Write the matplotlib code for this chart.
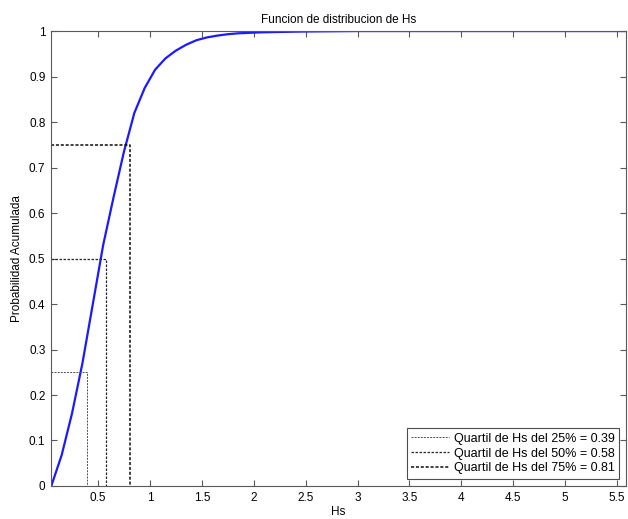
import numpy as np
import matplotlib.pyplot as plt
from matplotlib.ticker import FormatStrFormatter

plt.rcParams['font.family'] = ['Liberation Sans', 'DejaVu Sans']

# curva de distribucion acumulada de Hs
hs = [0.05, 0.15, 0.25, 0.35, 0.45, 0.55, 0.65, 0.75, 0.85, 0.95,
      1.05, 1.15, 1.25, 1.35, 1.45, 1.55, 1.65, 1.75, 1.85, 1.95,
      2.05, 2.25, 2.5, 2.75, 3.0, 3.5, 4.0, 4.5, 5.0, 5.6]
prob = [0.0, 0.068, 0.16, 0.27, 0.40, 0.53, 0.635, 0.735, 0.82, 0.875,
        0.915, 0.94, 0.957, 0.970, 0.980, 0.986, 0.990, 0.993, 0.995, 0.996,
        0.997, 0.998, 0.999, 0.9995, 1.0, 1.0, 1.0, 1.0, 1.0, 1.0]

niveles = [0.25, 0.50, 0.75]
cuartiles = [0.39, 0.58, 0.81]
etiquetas = ['25%', '50%', '75%']
anchos = [0.7, 0.9, 1.1]
grises = ['0.3', '0.15', '0.05']

xmin, xmax = 0.047, 5.587

fig = plt.figure(figsize=(6.28, 5.19), dpi=100)
ax = fig.add_axes([0.0812, 0.0636, 0.9158, 0.8766])

ax.plot(hs, prob, color='#1a1aff', linewidth=1.6)

for q, xq, lab, lw, c in zip(niveles, cuartiles, etiquetas, anchos, grises):
    ax.plot([xmin, xq, xq], [q, q, 0], linestyle='--', dashes=(2, 1.2),
            color=c, linewidth=lw,
            label='Quartil de Hs del %s = %.2f' % (lab, xq))

ax.set_xlim(xmin, xmax)
ax.set_ylim(0, 1)
ax.set_xticks(np.arange(0.5, 5.51, 0.5))
ax.set_yticks(np.arange(0, 1.01, 0.1))
ax.xaxis.set_major_formatter(FormatStrFormatter('%g'))
ax.yaxis.set_major_formatter(FormatStrFormatter('%g'))
ax.tick_params(direction='in', top=True, right=True, length=4,
               labelsize=8.5, color='0.35', pad=4)
for s in ax.spines.values():
    s.set_color('0.35')
    s.set_linewidth(0.8)

ax.set_xlabel('Hs', fontsize=8.5, labelpad=2)
ax.set_ylabel('Probabilidad Acumulada', fontsize=8.5, labelpad=4)
ax.set_title('Funcion de distribucion de Hs', fontsize=8.5, pad=6)

leg = ax.legend(loc='lower right', bbox_to_anchor=(0.988, 0.016),
                borderaxespad=0, fontsize=9, fancybox=False,
                framealpha=1, edgecolor='0.3', handlelength=3.0,
                handletextpad=0.4, labelspacing=0.22, borderpad=0.35)
leg.get_frame().set_linewidth(0.8)

fig.savefig('out.png', dpi=100)
